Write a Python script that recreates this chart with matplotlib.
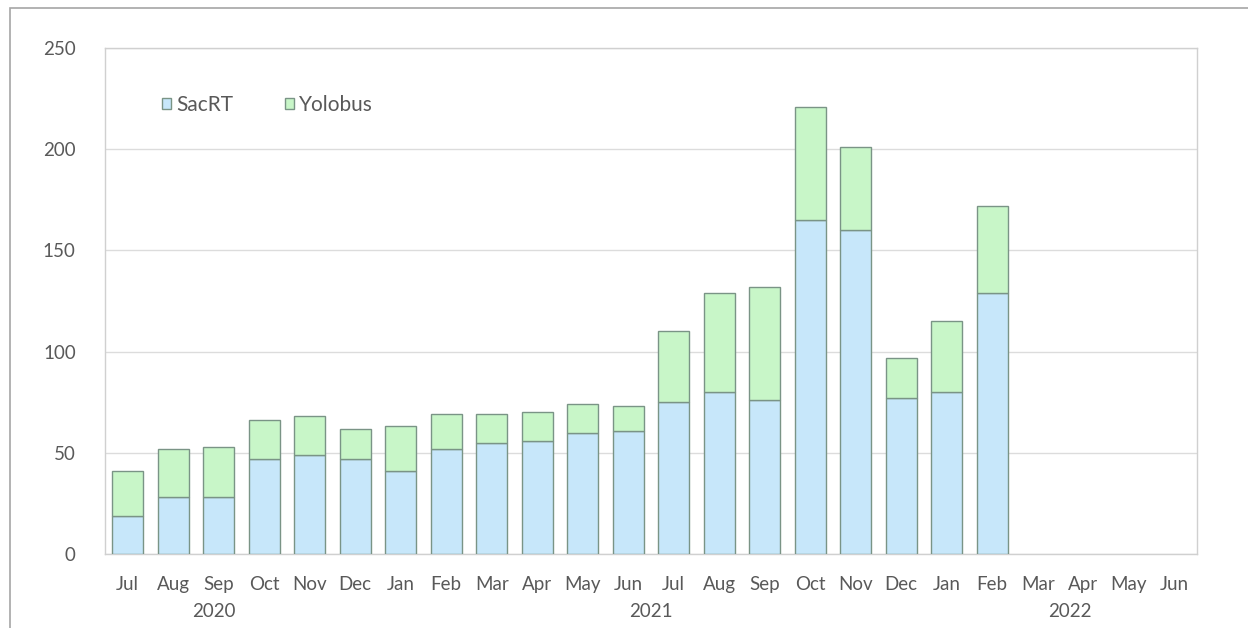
import numpy as np
import matplotlib.pyplot as plt
from matplotlib.patches import Rectangle

# --- Data ---
months = ["Jul", "Aug", "Sep", "Oct", "Nov", "Dec",
          "Jan", "Feb", "Mar", "Apr", "May", "Jun",
          "Jul", "Aug", "Sep", "Oct", "Nov", "Dec",
          "Jan", "Feb", "Mar", "Apr", "May", "Jun"]
# Mar-Jun 2022 have no data yet
sacrt = [19, 28, 28, 47, 49, 47, 41, 52, 55, 56, 60, 61,
         75, 80, 76, 165, 160, 77, 80, 129, np.nan, np.nan, np.nan, np.nan]
totals = [41, 52, 53, 66, 68, 62, 63, 69, 69, 70, 74, 73,
          110, 129, 132, 221, 201, 97, 115, 172, np.nan, np.nan, np.nan, np.nan]
yolobus = [t - s for t, s in zip(totals, sacrt)]
years = ["2020", "2021", "2022"]
year_pos = [1.9, 11.5, 20.7]

blue = "#c7e7fa"
green = "#c8f6c8"
edge = "#7a9486"
grid_c = "#dcdcdc"
text_c = "#595959"

plt.rcParams['font.family'] = ['Lato', 'DejaVu Sans']

fig = plt.figure(figsize=(12.48, 6.28), dpi=100)
ax = fig.add_axes([0.0841, 0.1178, 0.875, 0.8058])

# outer chart frame
fig.patches.append(Rectangle((10 / 1248, -0.1), 1.2, 1 - 8 / 628 + 0.1,
                             transform=fig.transFigure, fill=False,
                             edgecolor="#a6a6a6", linewidth=1.2))

x = np.arange(len(months))
ax.bar(x, sacrt, width=0.69, color=blue, edgecolor=edge, linewidth=1, label="SacRT", zorder=3)
ax.bar(x, yolobus, width=0.69, bottom=sacrt, color=green, edgecolor=edge, linewidth=1,
       label="Yolobus", zorder=3)

ax.set_xlim(-0.5, len(months) - 0.5)
ax.set_ylim(0, 250)
ax.set_yticks(range(0, 251, 50))
ax.yaxis.grid(True, color=grid_c, linewidth=1, zorder=0)
ax.set_axisbelow(True)

for side in ["left", "right", "top", "bottom"]:
    ax.spines[side].set_color("#d0d0d0")
    ax.spines[side].set_linewidth(1)

ax.set_xticks(x)
ax.set_xticklabels(months)
ax.tick_params(axis="both", length=0, colors=text_c, labelsize=13.5)
ax.tick_params(axis="y", pad=21)
ax.tick_params(axis="x", pad=16)

for yr, p in zip(years, year_pos):
    ax.text(p, -28.5, yr, ha="center", va="center", color=text_c, fontsize=13.5)

leg = ax.legend(loc="upper left", bbox_to_anchor=(0.035, 0.945), ncol=2, frameon=False,
                fontsize=15, handlelength=0.45, handleheight=0.45, handletextpad=0.25,
                columnspacing=2.45, labelcolor=text_c)

fig.savefig("out.png", dpi=100, facecolor="white")
